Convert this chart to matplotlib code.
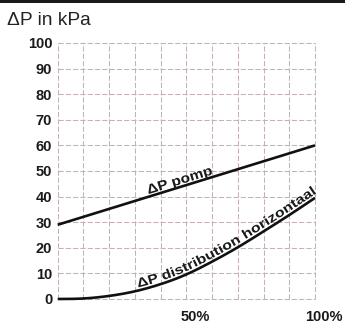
import numpy as np
import matplotlib
matplotlib.use("Agg")
import matplotlib.pyplot as plt
from matplotlib.textpath import TextPath
from matplotlib.font_manager import FontProperties
from matplotlib.patches import PathPatch, Rectangle
from matplotlib.path import Path
from matplotlib.transforms import IdentityTransform, ScaledTranslation

# Flow fraction (%) and pressure differences (kPa)
flow_pct = [0, 10, 20, 30, 40, 50, 60, 70, 80, 90, 100]
dp_distribution = [0, 0.2, 1.2, 3.0, 5.8, 9.6, 14.6, 20.2, 26.4, 32.8, 39.5]
pump_flow_pct = [0, 100]
dp_pump = [29, 60]

y_ticks = [0, 10, 20, 30, 40, 50, 60, 70, 80, 90, 100]
x_grid = [0, 10, 20, 30, 40, 50, 60, 70, 80, 90, 100]
x_labels = {50: "50%", 100: "100%"}

plt.rcParams["font.family"] = ["Liberation Sans", "DejaVu Sans"]


def natural_spline(x, y, xs):
    """Natural cubic spline through (x, y), evaluated at xs."""
    x = np.asarray(x, float)
    y = np.asarray(y, float)
    n = len(x)
    h = np.diff(x)
    A = np.zeros((n, n))
    b = np.zeros(n)
    A[0, 0] = A[-1, -1] = 1
    for i in range(1, n - 1):
        A[i, i - 1] = h[i - 1]
        A[i, i] = 2 * (h[i - 1] + h[i])
        A[i, i + 1] = h[i]
        b[i] = 3 * ((y[i + 1] - y[i]) / h[i] - (y[i] - y[i - 1]) / h[i - 1])
    c = np.linalg.solve(A, b)
    idx = np.clip(np.searchsorted(x, xs) - 1, 0, n - 2)
    dx = xs - x[idx]
    hb = h[idx]
    bb = (y[idx + 1] - y[idx]) / hb - hb * (2 * c[idx] + c[idx + 1]) / 3
    d = (c[idx + 1] - c[idx]) / (3 * hb)
    return y[idx] + bb * dx + c[idx] * dx ** 2 + d * dx ** 3


W, H = 345, 323
fig = plt.figure(figsize=(W / 100, H / 100), dpi=100)
fig.patch.set_facecolor("white")
ax = fig.add_axes([57.7 / W, 1 - 299 / H, (315 - 57.7) / W, (299 - 43) / H])
ax.set_xlim(0, 100)
ax.set_ylim(0, 100)

for s in ax.spines.values():
    s.set_visible(False)

ax.set_yticks(y_ticks)
ax.set_yticklabels([str(v) for v in y_ticks], fontsize=10.5, fontweight="bold", color="#1a1a1a")
ax.set_xticks(x_grid)
ax.set_xticklabels([x_labels.get(v, "") for v in x_grid], fontsize=10.5,
                   fontweight="bold", color="#1a1a1a")
ax.tick_params(axis="both", length=0)
ax.tick_params(axis="y", pad=4)
ax.tick_params(axis="x", pad=8)
shift = ScaledTranslation(9 / 100, 0, fig.dpi_scale_trans)
for lab in ax.get_xticklabels():
    lab.set_transform(lab.get_transform() + shift)

ax.grid(True, color="#c2b4b4", linestyle=(0, (5, 2)), linewidth=0.75)
for gl in ax.get_xgridlines() + ax.get_ygridlines():
    gl.set_clip_on(False)

xs = np.linspace(0, 100, 301)
ys = np.maximum(natural_spline(flow_pct, dp_distribution, xs), 0)

ax.plot(pump_flow_pct, dp_pump, color="#111111", linewidth=1.9,
        solid_capstyle="butt", clip_on=False, zorder=3)
ax.plot(xs, ys, color="#111111", linewidth=1.9,
        solid_capstyle="butt", clip_on=False, zorder=3)


def text_along(xdata, ydata, label, x_start, x_end, size_px, offset_px):
    """Bend a text path so it runs along a data curve."""
    xdata = np.asarray(xdata, float)
    ydata = np.asarray(ydata, float)
    xd = np.linspace(xdata.min(), xdata.max() + 2, 600)
    yd = np.interp(xd, xdata, ydata)
    slope = (ydata[-1] - ydata[-2]) / (xdata[-1] - xdata[-2])
    yd = np.where(xd > xdata[-1], ydata[-1] + slope * (xd - xdata[-1]), yd)
    pts = ax.transData.transform(np.column_stack([xd, yd]))
    seg = np.hypot(np.diff(pts[:, 0]), np.diff(pts[:, 1]))
    arc = np.concatenate([[0], np.cumsum(seg)])
    s0 = np.interp(x_start, xd, arc)
    s1 = np.interp(x_end, xd, arc)
    tp = TextPath((0, 0), label, size=size_px,
                  prop=FontProperties(family="Liberation Sans", weight="bold"))
    verts = tp.vertices.copy()
    width = verts[:, 0].max()
    scale = (s1 - s0) / width
    u = s0 + verts[:, 0] * scale
    v = verts[:, 1] + offset_px
    px = np.interp(u, arc, pts[:, 0])
    py = np.interp(u, arc, pts[:, 1])
    tx = np.gradient(pts[:, 0])
    ty = np.gradient(pts[:, 1])
    n = np.hypot(tx, ty)
    tx, ty = tx / n, ty / n
    tux = np.interp(u, arc, tx)
    tuy = np.interp(u, arc, ty)
    nx, ny = -tuy, tux
    new = np.column_stack([px + nx * v, py + ny * v])
    patch = PathPatch(Path(new, tp.codes), facecolor="#1a1a1a", edgecolor="none",
                      transform=IdentityTransform())
    fig.add_artist(patch)


text_along(pump_flow_pct, dp_pump, "ΔP pomp", 35.5, 60.5, 13.5, 2.5)
text_along(xs, ys, "ΔP distribution horizontaal", 31.5, 101, 13.0, 3.0)

fig.text(7 / W, 1 - 12 / H, "ΔP in kPa", fontsize=13.8, color="#222222",
         ha="left", va="top")
fig.add_artist(Rectangle((0, 1 - 2.5 / H), 1, 2.5 / H, transform=fig.transFigure,
                         color="#1a1a1a", lw=0))

fig.savefig("out.png", dpi=100)
